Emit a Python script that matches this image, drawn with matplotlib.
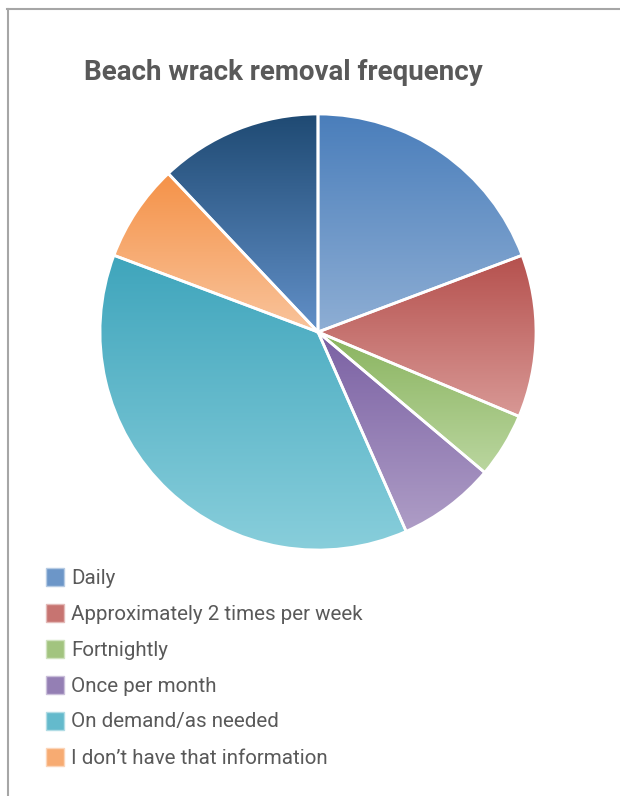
import numpy as np
import matplotlib
matplotlib.use('Agg')
import matplotlib.pyplot as plt
from matplotlib.colors import to_rgb
from matplotlib.patches import Rectangle
from matplotlib.lines import Line2D

# Datos (respuestas por categoría)
categories = ['Daily', 'Approximately 2 times per week', 'Fortnightly',
              'Once per month', 'On demand/as needed', "I don\u2019t have that information",
              'Other']
counts = [16, 10, 4, 6, 31, 6, 10]
legend_labels = categories[:6]

# gradiente: (color arriba, color abajo)
grad_colors = [('#4A7EBB', '#8EAED4'),
               ('#B5504D', '#D89895'),
               ('#89B35E', '#BAD69F'),
               ('#7A60A3', '#AE9DC6'),
               ('#3FA5BC', '#88CEDB'),
               ('#F59248', '#F9C49C'),
               ('#1F4A73', '#6290C8')]
text_color = '#595959'

fig = plt.figure(figsize=(6.2, 7.96), dpi=100)

# marco gris (arriba e izquierda)
fig.add_artist(Line2D([7/620, 1.0], [1 - 9/796, 1 - 9/796], transform=fig.transFigure,
                      color='#A6A6A6', lw=1.5))
fig.add_artist(Line2D([8/620, 8/620], [0, 1 - 9/796], transform=fig.transFigure,
                      color='#A6A6A6', lw=1.5))

fig.text(84/620, 1 - 72/796, 'Beach wrack removal frequency', fontsize=20,
         fontweight='bold', family='Roboto', color=text_color, va='center', ha='left')

ax = fig.add_axes([100/620, 1 - 550/796, 436/620, 436/796])
wedges, _ = ax.pie(counts, startangle=90, counterclock=False, radius=1,
                   wedgeprops=dict(edgecolor='white', linewidth=2, facecolor='none'))

for w, (top, bot) in zip(wedges, grad_colors):
    w.set_facecolor('none')
    ext = w.get_path().get_extents()
    t = np.linspace(0, 1, 256)[:, None]
    grad = (1 - t) * np.array(to_rgb(top)) + t * np.array(to_rgb(bot))
    im = ax.imshow(grad[:, None, :], extent=[ext.x0, ext.x1, ext.y0, ext.y1],
                   origin='upper', aspect='auto', zorder=0.5, interpolation='bilinear')
    im.set_clip_path(w)

ax.set_xlim(-1, 1)
ax.set_ylim(-1, 1)
ax.set_aspect('equal')
ax.axis('off')

# Leyenda
for i, lab in enumerate(legend_labels):
    top, bot = grad_colors[i]
    c = 0.5 * (np.array(to_rgb(top)) + np.array(to_rgb(bot)))
    edge = 0.5 * c + 0.5
    yc = 577 + 36 * i
    fig.add_artist(Rectangle((46/620, 1 - (yc + 9)/796), 18/620, 18/796,
                             transform=fig.transFigure, facecolor=c, edgecolor=edge, lw=1))
    fig.text(71/620, 1 - (yc + 1)/796, lab, fontsize=14.8, family='Roboto',
             color=text_color, va='center', ha='left')

plt.savefig('out.png', dpi=100)
